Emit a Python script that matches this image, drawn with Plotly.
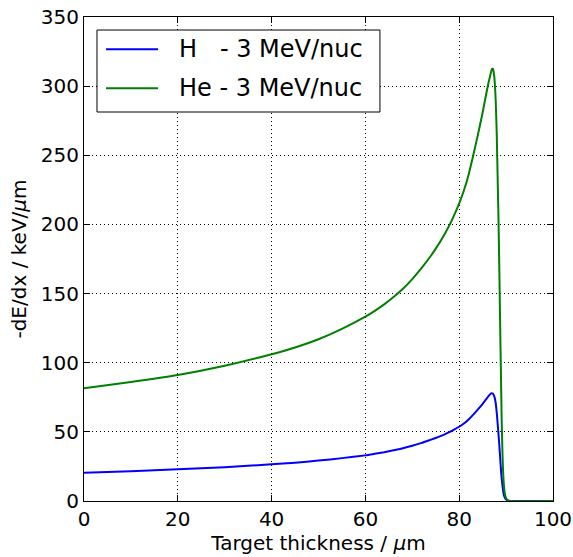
import plotly.graph_objects as go

# Stopping power along the path of 3 MeV/nucleon ions in the target
depth_h = [0, 10, 20, 30, 40, 45, 50, 55, 60, 62, 64, 66, 68, 70, 72, 74, 75, 76, 77,
           78, 79, 80, 81, 82, 83, 84, 85, 85.6, 86.1, 86.5, 86.9, 87.2, 87.5, 87.8,
           88.0, 88.2, 88.5, 88.8, 89.0, 89.3, 89.6, 90.0, 90.5, 91.0, 100]
dedx_h = [20.5, 21.6, 22.9, 24.4, 26.5, 27.7, 29.2, 31.0, 33.0, 34.1, 35.3, 36.7,
          38.2, 40.0, 42.0, 44.4, 45.6, 46.9, 48.4, 50.0, 51.8, 53.7, 56.0, 59.0,
          62.5, 66.3, 70.3, 72.9, 75.2, 76.9, 77.9, 77.6, 75.5, 70.5, 64.0, 56.0,
          43.0, 28.0, 18.5, 9.0, 3.5, 1.0, 0.2, 0.0, 0.0]

depth_he = [0, 10, 20, 30, 40, 45, 50, 55, 60, 62, 64, 66, 68, 70, 72, 74, 75, 76, 77,
            78, 79, 80, 81, 82, 83, 84, 85, 86, 86.5, 87.0, 87.2, 87.4, 87.6, 87.8,
            88.0, 88.1, 88.25, 88.4, 88.6, 88.8, 88.9, 89.05, 89.2, 89.35, 89.5, 89.7,
            90.0, 90.4, 91.0, 100]
dedx_he = [81.5, 86.0, 91.1, 97.8, 106.1, 111.0, 117.0, 124.5, 133.3, 137.5, 142.2,
           147.5, 153.5, 160.5, 168.5, 177.5, 182.5, 187.8, 193.6, 200.0, 207.3, 215.3,
           224.5, 236.0, 250.0, 265.0, 281.0, 298.5, 306.0, 312.5, 312.5, 309.0, 302.0,
           288.0, 266.0, 250.0, 225.0, 200.0, 158.0, 112.0, 92.0, 60.0, 38.0, 22.0,
           13.0, 6.0, 2.0, 0.5, 0.0, 0.0]

x_ticks = [0, 20, 40, 60, 80, 100]
y_ticks = [0, 50, 100, 150, 200, 250, 300, 350]

series = [
    ("H   - 3 MeV/nuc", depth_h, dedx_h, "#0000ff"),
    ("He - 3 MeV/nuc", depth_he, dedx_he, "#008000"),
]

font = "DejaVu Sans, Verdana, sans-serif"

fig = go.Figure()
for name, xs, ys, color in series:
    fig.add_trace(go.Scatter(x=xs, y=ys, mode="lines", name=name,
                             line=dict(color=color, width=2, shape="spline",
                                       smoothing=0.5)))

axis_common = dict(
    showline=True, linecolor="black", linewidth=1, mirror="ticks",
    ticks="inside", ticklen=6, tickwidth=1, tickcolor="black",
    showgrid=True, gridcolor="black", griddash="1px,3px", gridwidth=1,
    zeroline=False, automargin=False,
    tickfont=dict(family=font, size=20, color="black"),
)

fig.update_xaxes(range=[0, 100], tickvals=x_ticks,
                 title=dict(text="Target thickness / <i>μ</i>m",
                            font=dict(family=font, size=20, color="black"),
                            standoff=4),
                 **axis_common)
fig.update_yaxes(range=[0, 350], tickvals=y_ticks,
                 title=dict(text="-dE/dx / keV/<i>μ</i>m",
                            font=dict(family=font, size=20, color="black"),
                            standoff=8),
                 **axis_common)

# Framed legend in the upper-left corner of the axes
box = dict(x0=0.0277, x1=0.631, y0=0.8037, y1=0.9731)
row_y = [0.9333, 0.8527]
shapes = [dict(type="rect", xref="paper", yref="paper", **box,
               line=dict(color="black", width=1), fillcolor="white", layer="above")]
annotations = []
for (name, _, _, color), yy in zip(series, row_y):
    shapes.append(dict(type="line", xref="paper", yref="paper",
                       x0=0.047, x1=0.158, y0=yy, y1=yy,
                       line=dict(color=color, width=2), layer="above"))
    annotations.append(dict(xref="paper", yref="paper", x=0.199, y=yy,
                            xanchor="left", yanchor="middle", showarrow=False,
                            text=name,
                            font=dict(family=font, size=24, color="black")))

fig.update_layout(
    width=573, height=557,
    margin=dict(l=84, r=20, t=17, b=56, autoexpand=False),
    paper_bgcolor="white", plot_bgcolor="white",
    showlegend=False,
    shapes=shapes, annotations=annotations,
)

fig.write_html("out.html")
